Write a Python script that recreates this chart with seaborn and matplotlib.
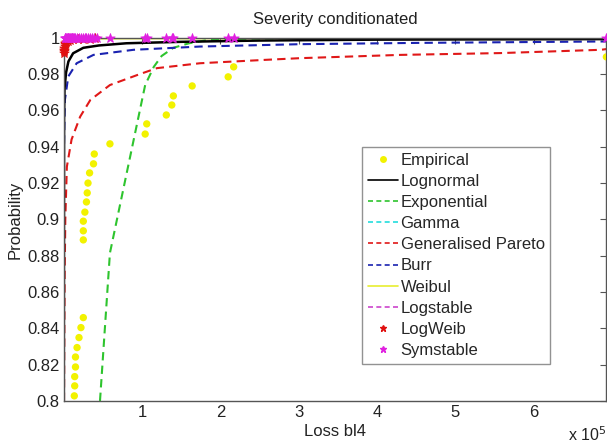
import numpy as np
import pandas as pd
import matplotlib
matplotlib.use("Agg")
import matplotlib.pyplot as plt
from matplotlib.lines import Line2D
import seaborn as sns

# ---------------- data (loss in units of 1e5) ----------------
emp_x = [0.135, 0.14, 0.14, 0.15, 0.15, 0.17, 0.195, 0.22, 0.25, 0.25, 0.25, 0.25,
         0.27, 0.29, 0.30, 0.31, 0.33, 0.38, 0.39, 0.59, 1.04, 1.06, 1.31, 1.38,
         1.40, 1.64, 2.10, 2.17, 6.93]
emp_y = [0.8028, 0.8083, 0.8134, 0.8187, 0.8242, 0.8294, 0.8349, 0.8404, 0.8459,
         0.8887, 0.8937, 0.8990, 0.9040, 0.9096, 0.9146, 0.9200, 0.9256, 0.9306,
         0.9360, 0.9416, 0.9470, 0.9526, 0.9575, 0.9630, 0.9680, 0.9735, 0.9785,
         0.9840, 0.9895]

logn_x = [0.0005, 0.004, 0.01, 0.03, 0.06, 0.12, 0.25, 0.45, 0.8, 1.5, 2.5, 4.0, 6.93]
logn_y = [0.80, 0.955, 0.972, 0.981, 0.987, 0.9915, 0.9945, 0.9958, 0.997, 0.9978, 0.9985, 0.999, 0.9993]

expo_x = [0.463, 0.59, 1.04, 1.15, 1.25, 1.40, 1.60, 1.80, 2.0, 3.0, 6.93]
expo_y = [0.80, 0.8815, 0.974, 0.984, 0.990, 0.9945, 0.997, 0.9985, 0.9993, 0.99995, 1.0]

gamma_x = [0.0, 0.002, 0.02, 1.0, 6.93]
gamma_y = [0.80, 0.9999, 1.0, 1.0, 1.0]

gpd_x = [0.004, 0.008, 0.012, 0.02, 0.04, 0.10, 0.21, 0.34, 0.59, 0.97, 1.19, 1.74,
         2.59, 3.02, 4.30, 5.58, 6.86, 6.93]
gpd_y = [0.80, 0.84, 0.87, 0.90, 0.929, 0.944, 0.9566, 0.9658, 0.974, 0.980, 0.9833,
         0.986, 0.9879, 0.9888, 0.9906, 0.9916, 0.9934, 0.9938]

burr_x = [0.0005, 0.002, 0.015, 0.058, 0.165, 0.38, 0.89, 1.74, 3.02, 4.5, 6.93]
burr_y = [0.80, 0.937, 0.9658, 0.9787, 0.986, 0.9906, 0.9934, 0.9952, 0.9965, 0.9972, 0.998]

weib_x = [0.0, 0.002, 0.05, 1.0, 6.93]
weib_y = [0.80, 0.9990, 0.9996, 0.9997, 0.9998]

lstab_x = [0.0, 0.001, 0.02, 1.0, 6.93]
lstab_y = [0.80, 0.9999, 1.0, 1.0, 1.0]

logweib_x = [0.0, 0.002, 0.004, 0.006, 0.01, 0.015, 0.02, 0.03, 0.05, 0.08, 0.12,
             0.18, 0.25, 0.33, 0.40]
logweib_y = [0.9915, 0.9925, 0.9935, 0.9945, 0.9955, 0.9965, 0.9972, 0.9978, 0.9984,
             0.9988, 0.9991, 0.9993, 0.9995, 0.9996, 0.9997]

sym_x = [0.01, 0.02, 0.03, 0.04, 0.05, 0.06, 0.07, 0.08, 0.09, 0.10, 0.11, 0.12,
         0.135, 0.15, 0.17, 0.195, 0.22, 0.25, 0.27, 0.29, 0.31, 0.33, 0.36, 0.39,
         0.42, 0.59, 1.04, 1.06, 1.31, 1.38, 1.40, 1.64, 2.10, 2.17, 6.93]
sym_y = [0.9999] * len(sym_x)

x_ticks = [1, 2, 3, 4, 5, 6]
y_ticks = [0.8, 0.82, 0.84, 0.86, 0.88, 0.9, 0.92, 0.94, 0.96, 0.98, 1.0]
y_labels = ["0.8", "0.82", "0.84", "0.86", "0.88", "0.9", "0.92", "0.94", "0.96", "0.98", "1"]

labels = ["Empirical", "Lognormal", "Exponential", "Gamma", "Generalised Pareto",
          "Burr", "Weibul", "Logstable", "LogWeib", "Symstable"]

# ---------------- style ----------------
sns.set_style("white")
plt.rcParams["font.family"] = ["Liberation Sans", "DejaVu Sans"]
FS = 12
plt.rcParams["font.size"] = FS

C_EMP = "#f2f200"
C_LOGN = "#000000"
C_EXP = "#2ec42e"
C_GAM = "#22dddd"
C_GPD = "#e01818"
C_BURR = "#1a22b0"
C_WEIB = "#e8ee30"
C_LSTAB = "#cc44cc"
C_LWEIB = "#e01010"
C_SYM = "#e020e0"

fig = plt.figure(figsize=(6.07, 4.45), dpi=100)
ax = fig.add_axes([0.105, 0.099, 0.894, 0.816])

dash = (4, 2.5)

def curve(xs, ys, color, ls="--", lw=1.5, z=2):
    df = pd.DataFrame({"x": np.array(xs) * 1e5, "y": ys})
    sns.lineplot(data=df, x="x", y="y", sort=False, estimator=None, color=color,
                 linewidth=lw, ax=ax, zorder=z)
    line = ax.lines[-1]
    if ls == "--":
        line.set_linestyle((0, dash))
    else:
        line.set_linestyle("-")

curve(gamma_x, gamma_y, C_GAM, z=1)
curve(lstab_x, lstab_y, C_LSTAB, z=1)
curve(weib_x, weib_y, C_WEIB, ls="-", lw=1.5, z=1.5)
curve(expo_x, expo_y, C_EXP)
curve(gpd_x, gpd_y, C_GPD)
curve(burr_x, burr_y, C_BURR)
curve(logn_x, logn_y, C_LOGN, ls="-", lw=1.8, z=3)

sns.scatterplot(x=np.array(emp_x) * 1e5, y=emp_y, color=C_EMP, s=28, edgecolor="none",
                marker="o", ax=ax, zorder=4, clip_on=True)
sns.scatterplot(x=np.array(logweib_x) * 1e5, y=logweib_y, color=C_LWEIB, s=50,
                edgecolor=C_LWEIB, linewidth=0.6, marker="*", ax=ax, zorder=5, clip_on=False)
sns.scatterplot(x=np.array(sym_x) * 1e5, y=sym_y, color=C_SYM, s=50,
                edgecolor=C_SYM, linewidth=0.6, marker="*", ax=ax, zorder=6, clip_on=False)

ax.set_xlim(0, 6.93e5)
ax.set_ylim(0.8, 1.0)
ax.set_xticks([t * 1e5 for t in x_ticks])
ax.set_xticklabels([str(t) for t in x_ticks])
ax.set_yticks(y_ticks)
ax.set_yticklabels(y_labels)

for s in ax.spines.values():
    s.set_visible(True)
    s.set_color("#555555")
    s.set_linewidth(1.0)
    s.set_zorder(3.5)
ax.tick_params(direction="in", length=4, width=0.8, color="#555555",
               top=True, right=True, labelsize=FS, labelcolor="#222222", pad=3)

ax.set_title("Severity conditionated", fontsize=FS, pad=10, color="#222222")
ax.set_xlabel("Loss bl4", fontsize=FS, color="#222222", labelpad=3)
ax.set_ylabel("Probability", fontsize=FS, color="#222222", labelpad=3)
fig.text(0.935, 0.002, r"x 10$^5$", fontsize=FS - 0.5, color="#222222", ha="left", va="bottom")

handles = [
    Line2D([], [], color=C_EMP, marker="o", ls="none", markersize=5, markeredgecolor="none"),
    Line2D([], [], color=C_LOGN, lw=1.2),
    Line2D([], [], color=C_EXP, lw=1.2, ls=(0, (3, 2))),
    Line2D([], [], color=C_GAM, lw=1.2, ls=(0, (3, 2))),
    Line2D([], [], color=C_GPD, lw=1.2, ls=(0, (3, 2))),
    Line2D([], [], color=C_BURR, lw=1.2, ls=(0, (3, 2))),
    Line2D([], [], color=C_WEIB, lw=1.2),
    Line2D([], [], color=C_LSTAB, lw=1.2, ls=(0, (3, 2))),
    Line2D([], [], color=C_LWEIB, marker="*", ls="none", markersize=5),
    Line2D([], [], color=C_SYM, marker="*", ls="none", markersize=5),
]
leg = ax.legend(handles, labels, loc="upper left", bbox_to_anchor=(0.55, 0.70),
                frameon=True, fancybox=False, edgecolor="#777777", fontsize=FS,
                handlelength=1.8, handletextpad=0.15, labelspacing=0.37,
                borderpad=0.35, borderaxespad=0)
leg.get_frame().set_linewidth(1.0)
leg.set_zorder(10)

fig.savefig("out.png", dpi=100)
